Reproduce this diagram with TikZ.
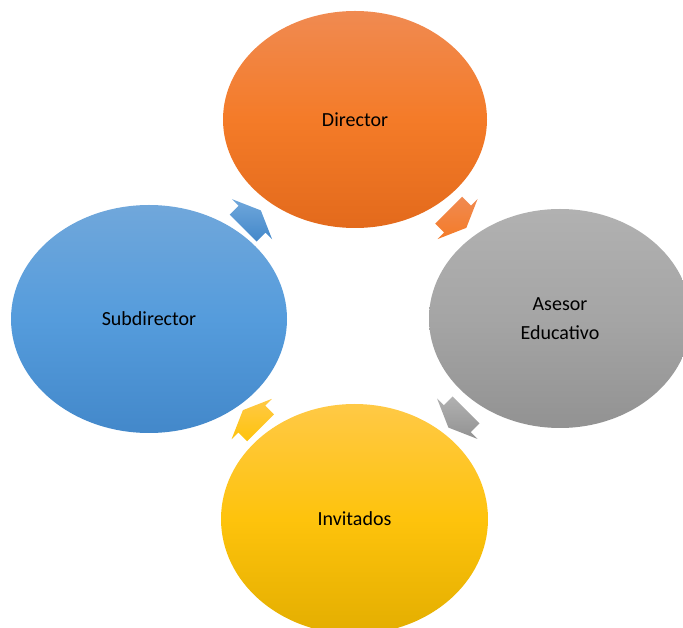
\documentclass[tikz,border=0pt]{standalone}
\usepackage{fontspec}
\setmainfont{Carlito}
\usetikzlibrary{shapes.geometric, calc}

\definecolor{naranjaA}{HTML}{F08A51}
\definecolor{naranjaB}{HTML}{F47B28}
\definecolor{naranjaC}{HTML}{E36A1C}
\definecolor{grisA}{HTML}{B1B1B1}
\definecolor{grisB}{HTML}{A5A5A5}
\definecolor{grisC}{HTML}{929292}
\definecolor{azulA}{HTML}{70A7DB}
\definecolor{azulB}{HTML}{559CDC}
\definecolor{azulC}{HTML}{4388CA}
\definecolor{amarilloA}{HTML}{FFC946}
\definecolor{amarilloB}{HTML}{FEC30C}
\definecolor{amarilloC}{HTML}{E3AE00}

\tikzset{
	pics/flecha/.style 2 args={code={
		\shade[top color=#1, bottom color=#2] (-12.5,-19) -- (0,-19) -- (0,-28.5) -- (12.5,0)
			-- (0,28.5) -- (0,19) -- (-12.5,19) -- cycle;
	}}
}

\begin{document}
\begin{tikzpicture}[x=1pt, y=1pt, font=\fontsize{20}{29}\selectfont]
			\tikzstyle{circulo}=[ellipse, draw=none, inner sep=0pt, align=center, text=black]
			
			\useasboundingbox (0,0) rectangle (683,627);
			\clip (0,0) rectangle (683,627);
			
			\node[circulo, minimum width=264pt, minimum height=217pt, top color=naranjaA, bottom color=naranjaC, middle color=naranjaB] (dir) at (355,507.5) {Director};
			\node[circulo, minimum width=262pt, minimum height=219pt, top color=grisA, bottom color=grisC, middle color=grisB] (ase) at (560,308.5) {Asesor\\Educativo};
			\node[circulo, minimum width=267pt, minimum height=230pt, top color=amarilloA, bottom color=amarilloC, middle color=amarilloB] (inv) at (354.5,108) {Invitados};
			\node[circulo, minimum width=276pt, minimum height=228pt, top color=azulA, bottom color=azulC, middle color=azulB] (sub) at (149,308) {Subdirector};
			
			\pic[rotate=-45] at ($(dir)!0.5!(ase)$) {flecha={naranjaA}{naranjaB}};
			\pic[rotate=-135] at ($(ase)!0.5!(inv)$) {flecha={grisA}{grisC}};
			\pic[rotate=135] at ($(inv)!0.5!(sub)$) {flecha={amarilloA}{amarilloB}};
			\pic[rotate=45] at ($(sub)!0.5!(dir)$) {flecha={azulA}{azulC}};
		\end{tikzpicture}
\end{document}
